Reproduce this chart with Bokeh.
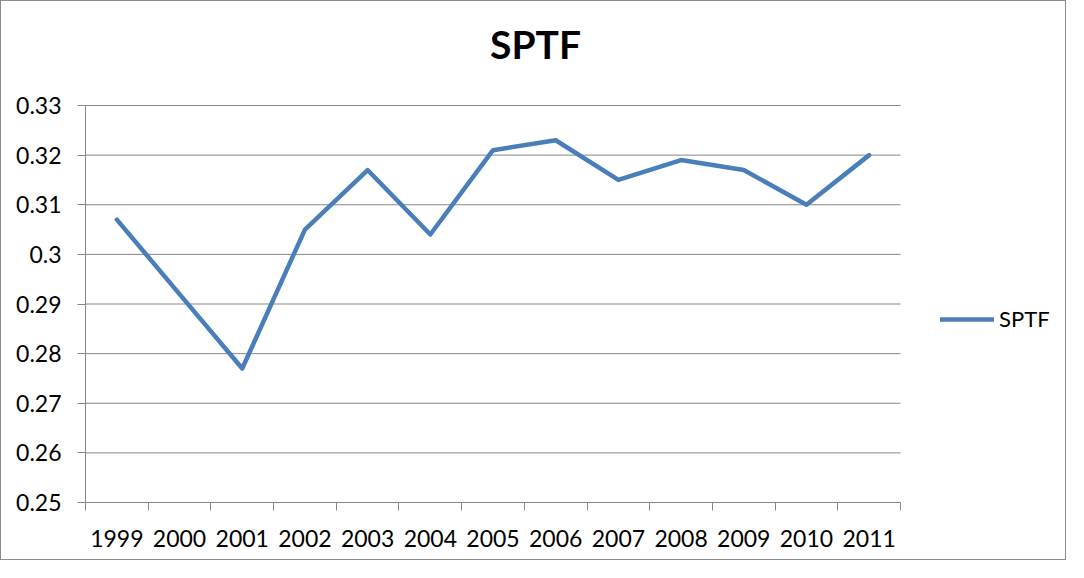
from bokeh.plotting import figure
from bokeh.models import FixedTicker, Legend, LegendItem, Range1d, ColumnDataSource, Label
from bokeh.embed import file_html
from bokeh.resources import INLINE

title_text = "SPTF"
years = ["1999", "2000", "2001", "2002", "2003", "2004", "2005",
         "2006", "2007", "2008", "2009", "2010", "2011"]
sptf = [0.307, 0.292, 0.277, 0.305, 0.317, 0.304, 0.321,
        0.323, 0.315, 0.319, 0.317, 0.310, 0.320]
y_ticks = [0.25, 0.26, 0.27, 0.28, 0.29, 0.3, 0.31, 0.32, 0.33]
y_tick_labels = ["0.25", "0.26", "0.27", "0.28", "0.29", "0.3", "0.31", "0.32", "0.33"]

n = len(years)
xpos = [i + 0.5 for i in range(n)]
src = ColumnDataSource(dict(x=xpos, y=sptf, year=years))

FONT = "Lato"
GRID = "#878787"

# layout (pixels)
W, H = 1066, 560
LEFT, BOTTOM = 84, 59
PLOT_W, PLOT_H = 815, 397          # size of the category/value area
frame_w, frame_h = W - LEFT, H - BOTTOM
y0, y1 = y_ticks[0], y_ticks[-1]
x_end = n * frame_w / PLOT_W
y_end = y0 + (y1 - y0) * frame_h / PLOT_H

p = figure(width=W, height=H, output_backend="svg", toolbar_location=None,
           x_range=Range1d(0, x_end), y_range=Range1d(y0, y_end),
           min_border_left=LEFT, min_border_right=0, min_border_top=0,
           min_border_bottom=BOTTOM)
p.styles = {"border": "1px solid #8c8c8c"}
p.outline_line_color = None
p.background_fill_color = "white"
p.border_fill_color = "white"

# horizontal gridlines limited to the category area
p.segment(x0=[0] * len(y_ticks), x1=[n] * len(y_ticks), y0=y_ticks, y1=y_ticks,
          line_color=GRID, line_width=1)

r = p.line("x", "y", source=src, line_color="#4A7EBB", line_width=4.5,
           line_cap="round", line_join="round")

# title (centred over the chart)
title_x = n * (534 - LEFT) / PLOT_W
title_y = y0 + (y1 - y0) * (frame_h - 42) / PLOT_H
p.add_layout(Label(x=title_x, y=title_y, text=title_text, text_align="center",
                   text_baseline="middle", text_font=FONT, text_font_style="bold",
                   text_font_size="39px", text_color="black"))

# x axis: labels at centers, ticks at category boundaries
xa = p.xaxis[0]
xa.bounds = (0, n)
xa.ticker = FixedTicker(ticks=xpos, minor_ticks=list(range(n + 1)))
xa.major_label_overrides = {x: y for x, y in zip(xpos, years)}
xa.major_tick_out = 0
xa.major_tick_in = 0
xa.minor_tick_out = 8
xa.minor_tick_in = 0
xa.minor_tick_line_color = GRID
xa.axis_line_color = GRID
xa.major_label_text_font = FONT
xa.major_label_text_font_size = "23px"
xa.major_label_text_color = "black"
xa.major_label_standoff = 19

ya = p.yaxis[0]
ya.bounds = (y0, y1)
ya.ticker = FixedTicker(ticks=y_ticks, minor_ticks=[])
ya.major_label_overrides = {t: l for t, l in zip(y_ticks, y_tick_labels)}
ya.major_tick_out = 8
ya.major_tick_in = 0
ya.major_tick_line_color = GRID
ya.axis_line_color = GRID
ya.major_label_text_font = FONT
ya.major_label_text_font_size = "23px"
ya.major_label_text_color = "black"
ya.major_label_standoff = 16

p.xgrid.grid_line_color = None
p.ygrid.grid_line_color = None

legend = Legend(items=[LegendItem(label="SPTF", renderers=[r])],
                location=(855, 170), orientation="vertical",
                padding=0, margin=0, spacing=0,
                glyph_width=54, glyph_height=20, label_height=20,
                label_standoff=5, border_line_color=None,
                background_fill_alpha=0,
                label_text_font=FONT, label_text_font_size="22px",
                label_text_color="black")
p.add_layout(legend, "center")

open("out.html", "w").write(file_html(p, INLINE))
